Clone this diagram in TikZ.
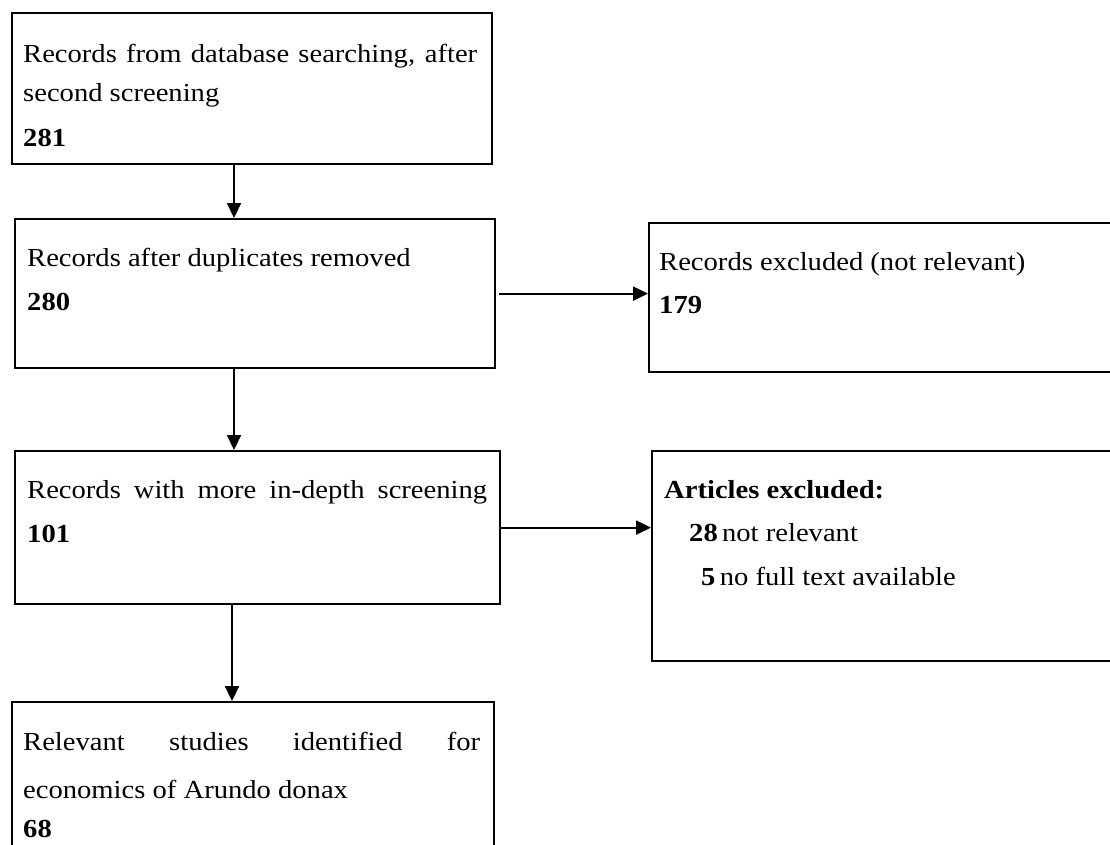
\documentclass[tikz,border=0pt]{standalone}
\usepackage{fontspec}
\setmainfont[FakeStretch=1.1]{Liberation Serif}
\usetikzlibrary{arrows.meta}
\tikzset{
  flowbox/.style={draw=black, line width=2.2pt, anchor=north west, inner sep=0pt, rectangle},
  txt/.style={anchor=base west, inner sep=0pt, font=\fontsize{26}{30}\selectfont},
  arr/.style={line width=2.2pt, -{Triangle[length=15pt,width=14pt]}}
}
\begin{document}
\begin{tikzpicture}[x=1pt,y=-1pt]
\useasboundingbox (0,0) rectangle (1110,845);
% boxes
\node[flowbox, minimum width=480pt, minimum height=151pt] (b1) at (11,12) {};
\node[flowbox, minimum width=480pt, minimum height=149pt] (b2) at (14,218) {};
\node[flowbox, minimum width=477pt, minimum height=149pt] (b3) at (648,222) {};
\node[flowbox, minimum width=485pt, minimum height=153pt] (b4) at (14,450) {};
\node[flowbox, minimum width=474pt, minimum height=210pt] (b5) at (651,450) {};
\node[flowbox, minimum width=482pt, minimum height=159pt] (b6) at (11,701) {};
% texts
\node[txt] (t1a) at (23,63) {\makebox[454pt][s]{Records from database searching, after}};
\node[txt] (t1b) at (23,102) {second screening};
\node[txt] (t1c) at (23,147) {\textbf{281}};
\node[txt] (t2a) at (27,266) {Records after duplicates removed};
\node[txt] (t2b) at (27,310) {\textbf{280}};
\node[txt] (t3a) at (659,270) {Records excluded (not relevant)};
\node[txt] (t3b) at (659,313) {\textbf{179}};
\node[txt] (t4a) at (27,498) {\makebox[460pt][s]{Records with more in-depth screening}};
\node[txt] (t4b) at (27,542) {\textbf{101}};
\node[txt] (t5a) at (664,498) {\textbf{Articles excluded:}};
\node[txt] (t5b) at (689,541) {\textbf{28}\,not relevant};
\node[txt] (t5c) at (701,585) {\textbf{5}\,no full text available};
\node[txt] (t6a) at (23,750) {\makebox[457pt][s]{Relevant studies identified for}};
\node[txt] (t6b) at (23,798) {economics of Arundo donax};
\node[txt] (t6c) at (23,837) {\textbf{68}};
% connectors
\coordinate (xa) at (234,0);
\coordinate (xb) at (232,0);
\draw[arr] (b1.south -| xa) -- (b2.north -| xa);
\draw[arr] (b2.south -| xa) -- (b4.north -| xa);
\draw[arr] (b4.south -| xb) -- (b6.north -| xb);
\draw[arr] ([xshift=3pt]b2.east) -- (b3.west |- b2.east);
\draw[arr] (b4.east) -- (b5.west |- b4.east);
\end{tikzpicture}
\end{document}
